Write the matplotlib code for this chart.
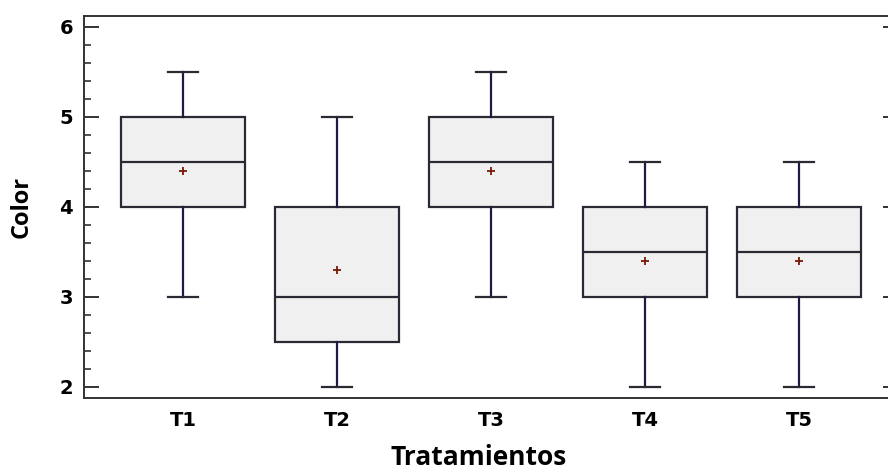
import matplotlib

matplotlib.use("Agg")
import matplotlib.pyplot as plt
from matplotlib.ticker import MultipleLocator

# values
labels = ["T1", "T2", "T3", "T4", "T5"]
whisk_lo = [3.0, 2.0, 3.0, 2.0, 2.0]
q1 = [4.0, 2.5, 4.0, 3.0, 3.0]
median = [4.5, 3.0, 4.5, 3.5, 3.5]
q3 = [5.0, 4.0, 5.0, 4.0, 4.0]
whisk_hi = [5.5, 5.0, 5.5, 4.5, 4.5]
mean = [4.4, 3.3, 4.4, 3.4, 3.4]

W, H = 888, 472
fig = plt.figure(figsize=(W / 100, H / 100), dpi=100)
# right edge of the axes lies just past the image edge, as in the reference
ax = fig.add_axes([84 / W, 1 - 398 / H, (898 - 84) / W, (398 - 16) / H])

stats = [
    dict(label=l, whislo=a, q1=b, med=c, q3=d, whishi=e, mean=m)
    for l, a, b, c, d, e, m in zip(labels, whisk_lo, q1, median, q3, whisk_hi, mean)
]
dark = "#2a2a35"
ax.bxp(
    stats, positions=range(1, 6), widths=0.8, showmeans=True, showfliers=False,
    patch_artist=True,
    boxprops=dict(facecolor="#f0f0f0", edgecolor=dark, lw=1.6),
    medianprops=dict(color=dark, lw=1.6),
    whiskerprops=dict(color="#1c1c40", lw=1.6),
    capprops=dict(color=dark, lw=1.6),
    capwidths=0.2,
    meanprops=dict(marker="+", markeredgecolor="#7a1a0a", markersize=6, markeredgewidth=1.3),
)

ax.set_xlim(1 - 99 / 154, 5 + 99 / 154)
ax.set_ylim(2 - 11 / 90, 6 + 11 / 90)
ax.yaxis.set_major_locator(MultipleLocator(1))
ax.yaxis.set_minor_locator(MultipleLocator(0.2))
ax.tick_params(axis="y", which="major", direction="in", length=11, width=1.4,
               left=True, right=True, pad=8, labelsize=14, color="#333333")
ax.tick_params(axis="y", which="minor", direction="in", length=5, width=1.2,
               left=True, right=True, color="#333333")
ax.tick_params(axis="x", length=0, pad=9, labelsize=14)
for t in ax.get_xticklabels() + ax.get_yticklabels():
    t.set_fontweight("bold")
    t.set_fontfamily("DejaVu Sans")
for s in ax.spines.values():
    s.set_color("#333333")
    s.set_linewidth(1.4)

ax.set_xlabel("Tratamientos", fontsize=19, fontweight="bold", family="Open Sans")
ax.set_ylabel("Color", fontsize=17, fontweight="bold", family="Open Sans")
ax.xaxis.set_label_coords((479 - 84) / (898 - 84), -(444 - 398) / (398 - 16))
ax.yaxis.set_label_coords(-(84 - 34) / (898 - 84), 0.5)

fig.savefig("out.png", dpi=100)
